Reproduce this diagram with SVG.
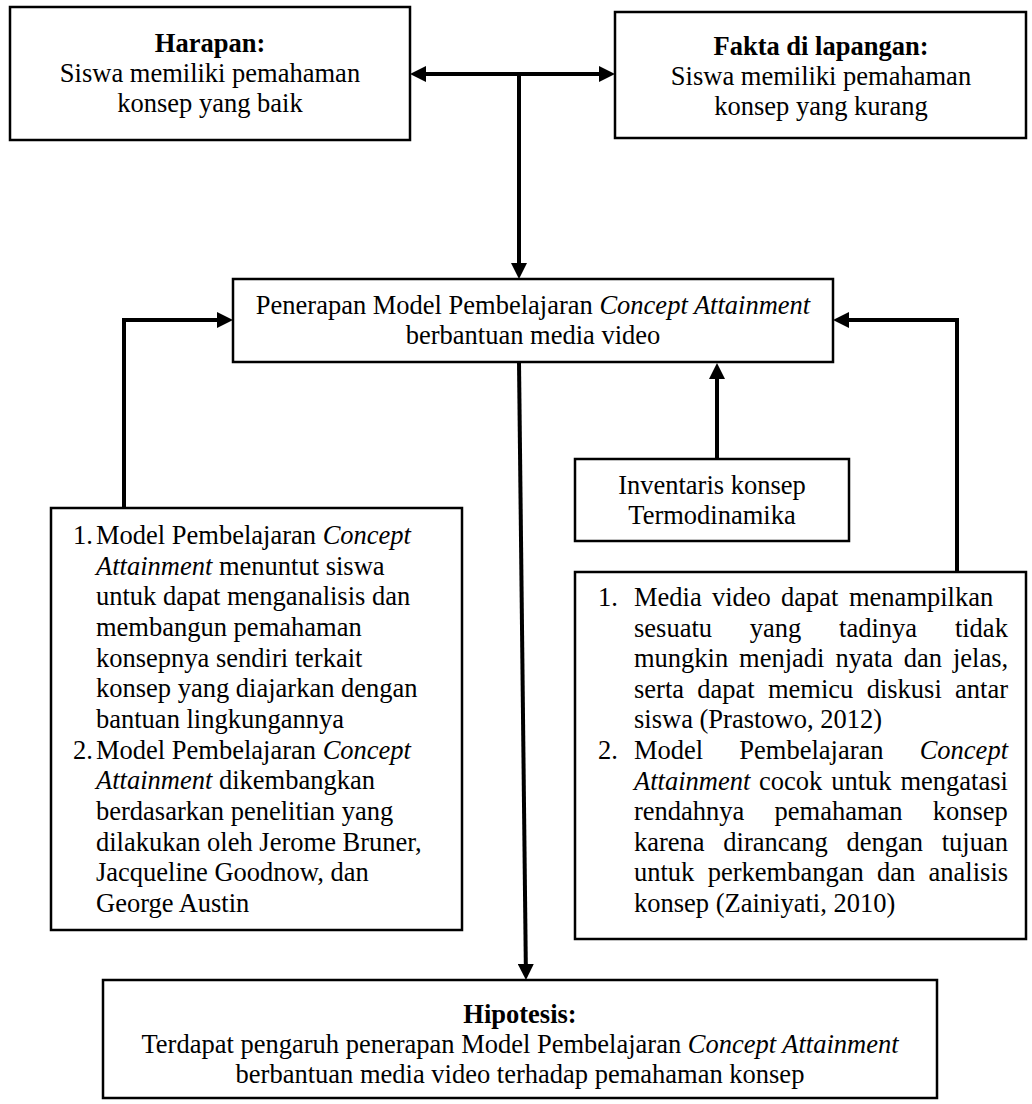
<svg xmlns="http://www.w3.org/2000/svg" width="1032" height="1104" viewBox="0 0 1032 1104">
<style>
.box{fill:#fff;stroke:#000;stroke-width:2.5}
.t{font-family:"Liberation Serif","Times New Roman",serif;font-size:26.5px;fill:#000}
.c{text-anchor:middle}
.b{font-weight:bold}
.i{font-style:italic}
.con{fill:none;stroke:#000;stroke-width:4;marker-end:url(#ah)}
</style>
<defs>
<marker id="ah" viewBox="0 0 16 16" refX="0" refY="8" markerWidth="16" markerHeight="16" markerUnits="userSpaceOnUse" orient="auto-start-reverse">
<path d="M0,0 L16,8 L0,16 Z" fill="#000"/>
</marker>
</defs>
<rect width="1032" height="1104" fill="#fff"/>

<g id="connectors">
<path class="con" d="M426,74 L599,74" style="marker-start:url(#ah)"/>
<path class="con" d="M519,74 L519,263"/>
<path class="con" d="M124,508 L124,320 L217,320"/>
<path class="con" d="M957,572 L957,320 L849,320"/>
<path class="con" d="M717,459 L717,379"/>
<path class="con" d="M519,362 L525.8,964"/>
</g>

<g id="harapan">
<rect class="box" x="10" y="7" width="400" height="133"/>
<text class="t c b" x="210" y="52">Harapan:</text>
<text class="t c" x="210" y="82">Siswa memiliki pemahaman</text>
<text class="t c" x="210" y="112">konsep yang baik</text>
</g>

<g id="fakta">
<rect class="box" x="615" y="12" width="411" height="126"/>
<text class="t c b" x="821" y="55">Fakta di lapangan:</text>
<text class="t c" x="821" y="85">Siswa memiliki pemahaman</text>
<text class="t c" x="821" y="115">konsep yang kurang</text>
</g>

<g id="penerapan">
<rect class="box" x="233" y="279" width="600" height="83"/>
<text class="t c" x="533" y="314">Penerapan Model Pembelajaran <tspan class="i">Concept Attainment</tspan></text>
<text class="t c" x="533" y="344">berbantuan media video</text>
</g>

<g id="inventaris">
<rect class="box" x="575" y="459" width="274" height="82"/>
<text class="t c" x="712" y="494">Inventaris konsep</text>
<text class="t c" x="712" y="524">Termodinamika</text>
</g>

<g id="teori-kiri">
<rect class="box" x="51" y="508" width="411" height="422"/>
<text class="t" x="73" y="544">1.</text>
<text class="t" x="96" y="544">Model Pembelajaran <tspan class="i">Concept</tspan></text>
<text class="t" x="96" y="574.7"><tspan class="i">Attainment</tspan> menuntut siswa</text>
<text class="t" x="96" y="605.3">untuk dapat menganalisis dan</text>
<text class="t" x="96" y="636">membangun pemahaman</text>
<text class="t" x="96" y="666.7">konsepnya sendiri terkait</text>
<text class="t" x="96" y="697.3">konsep yang diajarkan dengan</text>
<text class="t" x="96" y="728">bantuan lingkungannya</text>
<text class="t" x="73" y="758.7">2.</text>
<text class="t" x="96" y="758.7">Model Pembelajaran <tspan class="i">Concept</tspan></text>
<text class="t" x="96" y="789.3"><tspan class="i">Attainment</tspan> dikembangkan</text>
<text class="t" x="96" y="820">berdasarkan penelitian yang</text>
<text class="t" x="96" y="850.7">dilakukan oleh Jerome Bruner,</text>
<text class="t" x="96" y="881.3">Jacqueline Goodnow, dan</text>
<text class="t" x="96" y="912">George Austin</text>
</g>

<g id="teori-kanan">
<rect class="box" x="575" y="572" width="451" height="367"/>
<text class="t" x="598" y="606">1.</text>
<text class="t" y="606"><tspan x="634">Media</tspan><tspan x="712">video</tspan><tspan x="781">dapat</tspan><tspan x="849">menampilkan</tspan></text>
<text class="t" y="636.6"><tspan x="634">sesuatu</tspan><tspan x="749.8">yang</tspan><tspan x="839.1">tadinya</tspan><tspan x="954.9">tidak</tspan></text>
<text class="t" y="667.2"><tspan x="634">mungkin</tspan><tspan x="739.1">menjadi</tspan><tspan x="835.4">nyata</tspan><tspan x="903.7">dan</tspan><tspan x="952.9">jelas,</tspan></text>
<text class="t" y="697.8"><tspan x="634">serta</tspan><tspan x="697.3">dapat</tspan><tspan x="768">memicu</tspan><tspan x="866.7">diskusi</tspan><tspan x="955.1">antar</tspan></text>
<text class="t" x="634" y="728.4">siswa (Prastowo, 2012)</text>
<text class="t" x="598" y="759">2.</text>
<text class="t" y="759"><tspan x="634">Model</tspan><tspan x="739.3">Pembelajaran</tspan><tspan x="919.7" class="i">Concept</tspan></text>
<text class="t" y="789.6"><tspan x="634" class="i">Attainment</tspan><tspan x="759.1">cocok</tspan><tspan x="831.2">untuk</tspan><tspan x="900.4">mengatasi</tspan></text>
<text class="t" y="820.2"><tspan x="634">rendahnya</tspan><tspan x="774.6">pemahaman</tspan><tspan x="932.8">konsep</tspan></text>
<text class="t" y="850.8"><tspan x="634">karena</tspan><tspan x="723.3">dirancang</tspan><tspan x="846.5">dengan</tspan><tspan x="941.7">tujuan</tspan></text>
<text class="t" y="881.4"><tspan x="634">untuk</tspan><tspan x="707.7">perkembangan</tspan><tspan x="877">dan</tspan><tspan x="928.6">analisis</tspan></text>
<text class="t" x="634" y="912">konsep (Zainiyati, 2010)</text>
</g>

<g id="hipotesis">
<rect class="box" x="103" y="980" width="834" height="118"/>
<text class="t c b" x="520" y="1023">Hipotesis:</text>
<text class="t c" x="520" y="1053">Terdapat pengaruh penerapan Model Pembelajaran <tspan class="i">Concept Attainment</tspan></text>
<text class="t c" x="520" y="1083">berbantuan media video terhadap pemahaman konsep</text>
</g>
</svg>
